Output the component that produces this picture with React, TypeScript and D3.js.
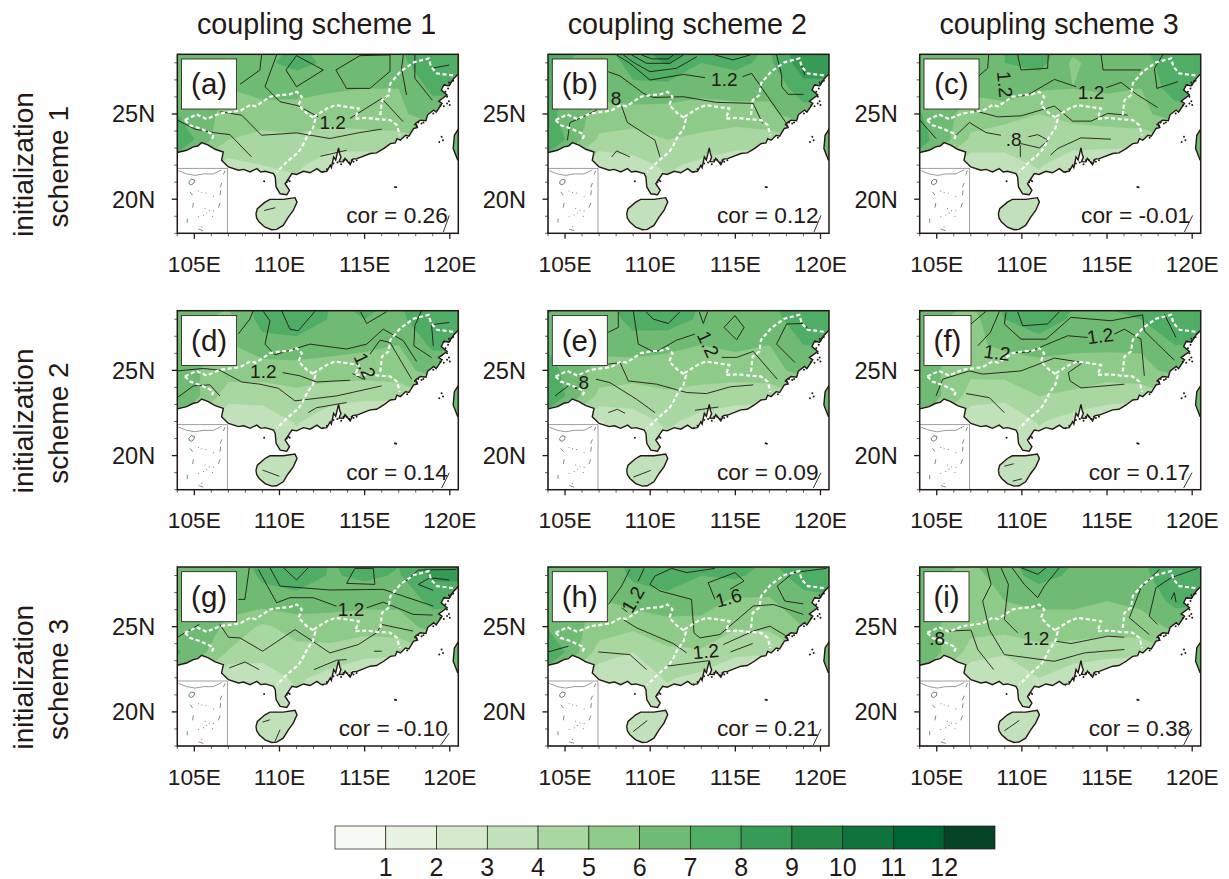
import React from 'react'
import * as d3 from 'd3'

// grid the shaded field sits on
const gridLons = [103, 105, 107, 109, 111, 113, 115, 117, 119, 121]
const gridLats = [29.5, 28, 26.5, 25, 23.5, 22, 20.5, 19, 17.5]

const fillA = [
  7.5, 7, 6.8, 6.8, 7, 6.8, 6.8, 7, 7.5, 7.5,
  7, 6.5, 5.8, 6.8, 7.3, 6.8, 6.8, 6.8, 7.5, 7.6,
  7, 6.2, 6, 6.4, 6.3, 6.1, 6, 6, 7.2, 7.2,
  7.5, 6.5, 5.7, 5.5, 5.6, 5.5, 5.6, 5.8, 6.5, 6.5,
  8, 7, 5, 4.7, 4.8, 4.5, 4.6, 4.6, 5, 7.5,
  7, 5, 3.6, 4, 4.2, 3.4, 3.3, 3.3, 4, 8,
  5, 4, 3.5, 3.6, 3.6, 3.3, 3, 3, 3.5, 6,
  5, 4, 3.5, 3.5, 3.5, 3.5, 3, 3, 3, 5,
  5, 4, 3.5, 3.5, 3.5, 3.5, 3, 3, 3, 5,
]
const fillB = [
  8, 7.2, 7, 8, 9.6, 8.2, 8, 7, 9, 9.2,
  7.6, 7, 6.2, 7.4, 8.1, 7, 7.2, 6.8, 8.6, 8.8,
  7.6, 7, 6.4, 6.8, 6.6, 6.3, 6.5, 6.2, 7.6, 7.5,
  7.6, 6.8, 5.6, 5.5, 5.6, 5.5, 5.5, 5.8, 6.5, 6.5,
  8, 7, 4.8, 4.6, 5, 4.8, 4.5, 4.5, 5, 7.5,
  7, 5, 3, 3.6, 4.2, 3.7, 3.3, 3.2, 4, 8,
  5, 4, 3, 3.3, 3.6, 3.4, 3, 3, 3.5, 6,
  5, 4, 3.5, 3.4, 3.4, 3.4, 3, 3, 3, 5,
  5, 4, 3.5, 3.3, 3.3, 3.3, 3, 3, 3, 5,
]
const fillC = [
  7.5, 7, 6.6, 7, 7.6, 6.6, 6.8, 7, 8, 8,
  7, 6.4, 6.2, 7, 7.4, 5.8, 6.6, 6.6, 7.6, 7.6,
  7, 6.2, 6.2, 6.6, 6.1, 6, 6.1, 6, 7.6, 7.4,
  7.5, 6.6, 5.5, 5.4, 5, 5.3, 5.6, 5.8, 6.4, 6.4,
  7.8, 6.8, 4.8, 4.4, 4.6, 4.5, 4.4, 4.4, 5, 7.5,
  7, 5, 3.2, 3.6, 4.1, 3.3, 3.3, 3.2, 4, 8,
  5, 4, 3, 3.3, 3.5, 3, 3, 3, 3.5, 6,
  5, 4, 3.5, 3.3, 3.3, 3, 3, 3, 3, 5,
  5, 4, 3.5, 3.3, 3.3, 3, 3, 3, 3, 5,
]
const fillD = [
  7, 6.8, 6.4, 7.4, 8.5, 7, 7.6, 7, 7.8, 8,
  6.6, 6.2, 5.7, 7.4, 7.8, 6.9, 7, 6.8, 7.6, 7.8,
  6.8, 6.2, 5.9, 6.6, 6.6, 6.4, 6.2, 6, 7.2, 7.2,
  7, 6.1, 5.5, 5.5, 5.6, 5.5, 5.5, 5.7, 6.3, 6.3,
  7.5, 6.3, 4.4, 4.4, 4.7, 4.4, 4.2, 4.2, 5, 7.5,
  7, 5, 3.1, 3.3, 4.1, 3.3, 3.1, 3.1, 4, 8,
  5, 4, 3, 3.3, 3.5, 3.2, 3, 3, 3.5, 6,
  5, 4, 3.5, 3.3, 3, 3, 3, 3, 3, 5,
  5, 4, 3.5, 3.3, 3, 3, 3, 3, 3, 5,
]
const fillE = [
  7.5, 7, 6.8, 7.6, 8, 7, 7, 7, 8, 8,
  7.2, 6.7, 6.2, 7.4, 7.6, 6.8, 6.8, 6.5, 7.7, 7.7,
  7.2, 6.7, 6.3, 6.5, 6.2, 6, 6.2, 6, 7, 7,
  7.5, 6.9, 5.6, 5.5, 5.6, 5.5, 5.5, 5.7, 6.3, 6.3,
  8, 7, 4.7, 4.5, 4.8, 4.6, 4.4, 4.3, 5, 7.5,
  7, 5, 2.9, 3.5, 4.2, 3.6, 3.3, 3.2, 4, 8,
  5, 4, 3, 3.4, 3.6, 3.3, 3, 3, 3.5, 6,
  5, 4, 3.5, 3.5, 3.3, 3.2, 3, 3, 3, 5,
  5, 4, 3.5, 3.5, 3.3, 3.2, 3, 3, 3, 5,
]
const fillF = [
  7.2, 6.6, 6.2, 7.4, 8.5, 7.2, 7.4, 7.2, 8, 8,
  6.6, 6.1, 5.6, 7, 7.8, 6.8, 6.7, 7, 7.6, 7.8,
  6.4, 6.1, 5.8, 6.2, 6.4, 6.2, 6.2, 6.1, 7, 7,
  7, 6.1, 5.2, 5.4, 5.6, 5.6, 5.5, 5.8, 6.2, 6.2,
  7.5, 6.2, 4.6, 4.3, 5, 4.8, 4.4, 4.3, 5, 7.5,
  7, 5, 3, 3.1, 4.1, 3.5, 3.2, 3.1, 4, 8,
  5, 4, 3, 3.2, 3.5, 3.2, 3, 3, 3.5, 6,
  5, 4, 3.5, 3.3, 3.3, 3.2, 3, 3, 3, 5,
  5, 4, 3.5, 3.3, 3.3, 3.2, 3, 3, 3, 5,
]
const fillG = [
  7, 6.8, 6.6, 7.4, 8, 7, 7.6, 7.2, 8.8, 8.8,
  6.8, 6.4, 6, 7.2, 7.6, 6.9, 7.2, 6.9, 8.2, 8.2,
  6.8, 6.4, 6.3, 6.5, 6.6, 6.4, 6.3, 6.2, 7.3, 7.3,
  7, 6.6, 5.8, 4.8, 5.4, 5.5, 5.4, 5.6, 6.3, 6.3,
  7.6, 6.6, 4.9, 4.4, 4.7, 4.7, 4.3, 4.2, 5, 7.5,
  7, 5, 3, 3.4, 4.2, 3.6, 3.1, 3, 4, 8,
  5, 4, 3, 3.4, 3.7, 3.3, 3, 3, 3.5, 6,
  5, 4, 3.5, 3.4, 3.4, 3.2, 3, 3, 3, 5,
  5, 4, 3.5, 3.4, 3.4, 3.2, 3, 3, 3, 5,
]
const fillH = [
  7.5, 7, 6.6, 7.4, 8.5, 7.6, 7.6, 7.2, 8, 8,
  7, 6.4, 6, 7.2, 7.6, 7, 7.2, 6.5, 7.5, 7.8,
  7, 6.2, 5.9, 6.4, 6.6, 6.5, 5.8, 5.9, 6.6, 6.8,
  7.4, 6.5, 5.6, 5.2, 5.6, 5.6, 5.1, 5.2, 6, 6,
  8, 7, 4.5, 4, 4.8, 4.9, 4.2, 4.1, 5, 7.5,
  7, 5, 3.3, 3.4, 4.1, 3.7, 3.1, 3, 4, 8,
  5, 4, 3, 3.3, 3.6, 3.3, 3, 3, 3.5, 6,
  5, 4, 3.5, 3.4, 3.4, 3.2, 3, 3, 3, 5,
  5, 4, 3.5, 3.4, 3.4, 3.2, 3, 3, 3, 5,
]
const fillI = [
  6.8, 6.6, 6.2, 6.8, 7.8, 7.2, 7.2, 7, 8, 8,
  6.4, 6.1, 5.6, 6.5, 7.4, 6.8, 6.6, 6.8, 7.5, 7.7,
  6.4, 6.1, 5.7, 6, 6.2, 6.2, 6, 6.2, 7.3, 7.2,
  6.8, 6.1, 5.3, 5.4, 5.6, 5.6, 5.4, 5.6, 6.2, 6.2,
  7.5, 6.2, 4.6, 4.1, 4.6, 4.5, 4.3, 4.2, 5, 7.5,
  7, 5, 3, 3.2, 4, 3.4, 3.1, 3, 4, 8,
  5, 4, 3, 3.4, 3.7, 3.3, 3, 3, 3.5, 6,
  5, 4, 3.5, 3.3, 3.3, 3.2, 3, 3, 3, 5,
  5, 4, 3.5, 3.3, 3.3, 3.2, 3, 3, 3, 5,
]

// black contour lines, lon/lat
type Pt = [number, number]
const linesA: Pt[][] = [
  [[104, 24.64], [105.04, 24.11], [106.11, 23.91], [107.09, 23.79], [108.36, 22.48]],
  [[106.5, 25.13], [107.78, 24.93], [108.95, 23.75], [111, 23.89], [112.96, 23.56], [114.72, 23.91], [116, 24.11]],
  [[114.14, 24.74], [116, 25.91], [117.27, 24.54]],
  [[109.15, 26.6], [109.83, 28.46]],
  [[109.15, 26.6], [110.03, 25.72], [111.1, 25.48], [112.28, 24.83]],
  [[110.38, 27.58], [111, 28.42], [112.57, 27.58], [111, 26.6], [110.38, 27.58]],
  [[113.31, 27.58], [114.72, 28.42], [116.49, 28.46], [116.49, 27.5], [115.31, 26.5], [113.94, 26.5], [113.31, 27.58]],
  [[117.27, 28.46], [117.17, 27.68], [117.46, 26.11]],
  [[117.95, 28.46], [117.95, 27.09], [118.97, 25.81]],
  [[118.93, 27.68], [119.97, 27.87]],
  [[107.68, 26.74], [108.85, 27.58], [108.95, 28.46]],
  [[112.41, 22.52], [113.94, 22.87]],
  [[109.1, 19.34], [109.75, 19.5]],
  [[119.97, 19.05], [119.62, 18.07]],
]
const linesB: Pt[][] = [
  [[107.54, 27.48], [108.23, 27.23], [109.6, 26.21], [110.18, 25.97], [111.95, 26.01], [113.9, 25.68], [116.05, 25.62], [116.6, 24.44]],
  [[108.32, 25.46], [108.66, 24.5], [110.28, 23.46], [110.58, 22.48]],
  [[105.14, 23.46], [105.29, 24.5], [106.07, 24.83], [106.86, 25.23]],
  [[107.74, 22.48], [108.03, 22.83], [108.81, 22.48]],
  [[108.03, 28.46], [108.81, 27.97], [109.99, 26.99], [111.95, 27.32], [113.22, 27.13]],
  [[115.43, 27.19], [115.96, 27.38], [118.01, 24.44]],
  [[108.42, 28.46], [109.11, 27.97], [109.99, 27.48], [111.55, 27.68], [112.73, 28.36]],
  [[108.91, 28.46], [109.79, 27.97], [111.16, 27.97], [111.95, 28.46]],
  [[109.5, 28.46], [110.09, 28.23], [111.06, 28.23], [111.36, 28.46]],
  [[113.8, 28.46], [114.86, 28.17], [115.86, 28.46]],
  [[117.42, 28.46], [117.72, 27.28], [117.72, 26.6], [118.11, 26.15], [119, 26.15]],
  [[118.8, 28.07], [119.09, 27.28]],
  [[120.03, 19.05], [119.62, 18.07]],
]
const linesC: Pt[][] = [
  [[104, 24.64], [104.96, 23.56]],
  [[106.04, 23.66], [106.92, 24.5], [107.89, 23.91], [108.77, 23.75]],
  [[109.95, 23.26], [111.03, 23.01], [111.55, 23.46], [110.93, 23.79], [110.38, 23.66]],
  [[109.91, 23.17], [109.91, 22.48]],
  [[107.21, 25.19], [108.58, 24.83], [109.95, 24.89], [111.91, 25.46], [112.98, 24.58], [114.06, 24.58], [115.04, 25.03], [116.21, 24.93]],
  [[111.67, 22.58], [112.1, 22.97], [113.47, 23.6], [115.23, 23.52]],
  [[108.05, 28.46], [107.99, 27.68], [107.31, 27.09]],
  [[109.75, 28.46], [109.95, 27.58], [111.51, 27.68], [111.55, 28.46]],
  [[109.75, 26.01], [110.34, 26.11], [111.91, 27.03], [113.18, 26.6]],
  [[114.94, 26.54], [115.82, 26.85], [116.8, 26.11], [117.97, 25.38]],
  [[114.65, 28.46], [114.77, 27.58], [116.99, 27.58]],
  [[118.27, 28.46], [117.78, 27.68], [117.93, 26.5], [119.15, 26.89]],
  [[120.03, 19.05], [119.54, 18.07]],
]
const linesD: Pt[][] = [
  [[104, 24.97], [105.53, 25.11], [106.5, 25.01], [107.78, 24.32], [108.85, 24.19], [109.93, 23.95], [110.91, 23.21], [113.35, 23.5], [116, 24.09]],
  [[104, 23.4], [104.94, 24.09], [105.92, 24.15], [106.5, 23.5]],
  [[110.18, 24.87], [111.2, 24.68], [112.18, 24.32], [114.14, 24.42]],
  [[114.29, 24.81], [114.92, 24.48]],
  [[115.31, 25.95], [115.9, 26.77], [116.49, 26.64], [117.76, 24.48]],
  [[111.69, 22.52], [112.18, 22.81], [113.94, 23.11]],
  [[107.58, 27.13], [108.26, 28.01], [108.46, 28.5]],
  [[109.05, 28.46], [109.44, 27.91], [109.15, 26.54], [109.73, 25.91], [111.79, 26.54], [113.94, 26.25], [115.12, 26.54], [116.09, 27.42], [117.27, 26.74], [118.05, 25.52]],
  [[110.13, 28.5], [110.61, 27.42], [111.1, 27.32], [112.08, 28.46]],
  [[114.76, 28.44], [115.12, 27.75], [116.29, 28.44]],
  [[118.34, 28.5], [117.95, 27.62], [117.89, 26.44], [118.93, 25.75]],
  [[119.97, 27.81], [118.93, 27.68], [119.03, 26.44]],
  [[109.01, 19.15], [109.99, 18.79]],
  [[119.97, 18.99], [119.52, 18.1]],
]
const linesE: Pt[][] = [
  [[107.54, 25.36], [108.23, 25.46], [108.72, 24.38], [110.38, 24.19], [112.14, 23.7], [113.31, 23.64], [114.68, 24.03], [116.05, 24.15]],
  [[106.82, 24.48], [107.64, 24.28], [109.21, 23.3], [110.28, 22.52]],
  [[104.41, 23.5], [105.19, 24.09]],
  [[107.54, 22.52], [108.07, 22.72], [108.52, 22.48]],
  [[112.63, 22.66], [114, 22.85]],
  [[109.01, 28.5], [109.3, 26.54], [110.28, 26.05], [111.55, 26.77], [112.63, 27.13]],
  [[114.2, 25.76], [115.08, 25.76], [116.05, 26.11], [117.46, 24.48]],
  [[109.75, 28.44], [110.18, 28.01], [111.06, 27.75], [111.75, 28.44]],
  [[112.88, 28.44], [113.12, 27.75], [113.37, 28.44]],
  [[114.33, 27.52], [114.98, 28.21], [115.51, 27.52], [115.08, 26.79], [114.33, 27.52]],
  [[119.29, 27.42], [118.99, 27.75], [118.01, 27.72], [117.42, 26.54], [118.5, 25.46]],
  [[109.01, 18.74], [110.03, 19.13]],
  [[108.13, 28.44], [108.13, 27.52], [107.54, 27.23]],
  [[120.03, 19], [119.58, 18.1]],
]
const linesF: Pt[][] = [
  [[104.96, 23.5], [105.35, 24.48], [106.92, 24.97], [107.7, 24.78], [109.95, 24.97], [111.91, 25.72], [113.57, 25.46], [112.73, 24.87], [112.83, 24.38], [113.47, 23.97], [116.02, 24.19]],
  [[106.72, 23.64], [108.09, 23.4], [108.97, 22.52]],
  [[107.41, 26.44], [108.15, 27.23], [108.68, 28.46]],
  [[109.46, 26.05], [110.34, 26.05], [112.69, 27.03], [113.86, 26.93]],
  [[115.43, 27.13], [116.02, 27.42], [116.99, 26.83], [117.19, 24.68]],
  [[109.07, 28.4], [108.97, 27.72], [109.95, 26.83], [111.42, 26.83], [112.88, 28.11], [115.23, 27.91], [117.09, 28.26], [117.19, 27.32], [117.87, 26.64], [118.95, 25.6]],
  [[109.75, 28.44], [110.05, 27.62], [111.51, 27.72], [112.2, 28.44]],
  [[118.36, 28.3], [119.05, 26.93]],
  [[107.01, 27.72], [107.89, 28.46]],
  [[108.97, 19.38], [109.52, 19.52]],
  [[109.46, 18.5], [110.01, 18.64]],
  [[119.99, 19], [119.5, 18.1]],
]
const linesG: Pt[][] = [
  [[104, 24.38], [105.29, 25.13]],
  [[106.5, 25.13], [107, 24.38], [107.68, 24.34], [109.01, 23.56], [110.91, 24.83], [111.79, 24.25], [112.96, 23.46], [114.63, 23.95], [115.7, 24.64], [116, 25.13], [117.85, 24.74]],
  [[107.05, 22.58], [107.98, 22.93], [108.81, 22.48]],
  [[112.02, 22.48], [113.35, 23.03], [113.94, 23.07]],
  [[115.55, 23.56], [116, 23.56]],
  [[107.58, 26.6], [107.97, 26.6], [108.23, 28.46]],
  [[108.76, 28.36], [109.83, 26.4], [110.61, 26.7], [111.99, 26.7], [113.35, 26.2]],
  [[115.12, 26.11], [116.09, 26.44], [117.85, 25.72], [118.99, 25.68]],
  [[109.44, 28.46], [110.03, 27.38], [112.96, 27.15], [116.09, 27.19], [117.27, 26.79], [119.03, 26.21]],
  [[110.23, 28.46], [111, 27.74], [111.69, 28.46]],
  [[113.94, 27.54], [114.43, 28.42], [115.51, 28.42], [115.6, 27.48], [113.94, 27.54]],
  [[117.27, 27.54], [118.15, 28.32], [120.4, 28.36]],
  [[119.97, 27.74], [118.83, 27.87], [118.15, 27.48], [119.03, 27.13]],
  [[109.01, 19.4], [109.44, 19.54]],
  [[109.73, 18.26], [110.03, 18.95]],
  [[119.97, 18.75], [119.46, 18.05]],
]
const linesH: Pt[][] = [
  [[104, 23.52], [105.19, 23.85]],
  [[106.95, 23.52], [108.81, 23.36], [109.79, 22.48]],
  [[108.42, 25.42], [109.21, 24.93], [111.36, 24.01], [112.14, 23.46]],
  [[107.54, 26.3], [108.32, 27.38], [108.81, 28.36]],
  [[108.32, 26.11], [108.66, 25.86]],
  [[110.97, 22.68], [113.41, 23]],
  [[114.29, 23.95], [116.05, 24.74], [117.03, 25.03], [118.01, 24.44]],
  [[114.72, 23.52], [116.02, 24.01]],
  [[113.8, 28.42], [112.14, 28.17], [111.26, 28.42], [110.28, 27.97], [109.99, 27.48], [110.58, 27.09], [112.43, 26.6], [112.57, 24.64], [112.92, 24.34], [114.1, 24.54], [116.05, 26.21], [117.23, 26.3], [118.99, 25.72]],
  [[109.3, 27.68], [109.64, 28.42]],
  [[113.8, 26.6], [113.41, 27.58], [114.98, 28.17], [115.51, 27.68], [114.68, 27.19]],
  [[120.36, 28.42], [118.4, 28.17], [117.46, 27.38], [117.91, 26.5], [118.99, 26.34]],
  [[109.01, 18.85], [109.83, 19.5]],
  [[120.03, 19], [119.58, 18.06]],
]
const linesI: Pt[][] = [
  [[105.64, 24.74], [107.01, 24.8], [107.41, 23.66], [108.34, 22.48]],
  [[107.95, 28.46], [108.19, 27.48], [107.7, 26.5], [108.09, 24.83], [108.97, 23.36], [111.91, 22.97], [113.67, 23.46], [116.02, 23.66]],
  [[108.77, 28.46], [109.21, 27.48], [108.97, 25.42], [109.75, 24.64]],
  [[111.95, 24.15], [112.89, 24.01], [115.04, 24.44], [116.02, 24.38]],
  [[109.42, 28.46], [110.14, 27.48], [110.93, 26.7], [111.32, 27.38], [112.2, 28.46]],
  [[109.95, 28.46], [110.93, 28.07], [111.42, 28.46]],
  [[118.07, 28.36], [116.99, 27.28], [116.31, 25.52], [117.48, 24.54]],
  [[120.32, 28.42], [118.76, 27.87], [117.87, 27.28], [117.48, 25.62], [117.97, 25.13]],
  [[118.76, 26.6], [118.95, 27], [119.05, 26.44]],
  [[108.97, 18.89], [109.85, 19.5]],
  [[119.99, 19], [119.5, 18.06]],
]

// contour labels: text, lon, lat, rotation
type Lab = [string, number, number, number]
const labelsA: Lab[] = [['1.2', 113.12, 24.5, 0]]
const labelsB: Lab[] = [['8', 108, 25.9, 0], ['1.2', 114.35, 27.03, 0]]
const labelsC: Lab[] = [['1.2', 109.01, 26.74, 85], ['.8', 109.52, 23.52, 0], ['1.2', 114.06, 26.3, 0]]
const labelsD: Lab[] = [['1.2', 109.05, 24.93, 0], ['1.2', 115.02, 25.26, 65]]
const labelsE: Lab[] = [['.8', 105.95, 24.28, 0], ['1.2', 113.41, 26.54, 65]]
const labelsF: Lab[] = [['1.2', 108.54, 26.05, 8], ['1.2', 114.6, 27.03, -8]]
const labelsG: Lab[] = [['1.2', 114.2, 26, 0]]
const labelsH: Lab[] = [['1.2', 108.97, 26.6, -60], ['1.6', 114.6, 26.7, -15], ['1.2', 113.26, 23.56, -5]]
const labelsI: Lab[] = [['.8', 105.02, 24.34, 0], ['1.2', 110.83, 24.34, 0]]

const panelNames = ['(a)', '(b)', '(c)', '(d)', '(e)', '(f)', '(g)', '(h)', '(i)']
const corValues = ['0.26', '0.12', '-0.01', '0.14', '0.09', '0.17', '-0.10', '0.21', '0.38']
const panelFills = [fillA, fillB, fillC, fillD, fillE, fillF, fillG, fillH, fillI]
const panelLines = [linesA, linesB, linesC, linesD, linesE, linesF, linesG, linesH, linesI]
const panelLabels = [labelsA, labelsB, labelsC, labelsD, labelsE, labelsF, labelsG, labelsH, labelsI]
const columnTitles = ['coupling scheme 1', 'coupling scheme 2', 'coupling scheme 3']
const rowTitles = ['scheme 1', 'scheme 2', 'scheme 3']
const lonTicks = [105, 110, 115, 120]
const latTicks = [20, 25]
const lonMinor = d3.range(104, 121)
const latMinor = d3.range(18, 29)

// coastline
const coast: Pt[] = [
  [104, 22.74], [104.55, 22.87], [104.94, 23.07], [105.2, 23.12], [105.43, 23.32], [105.82, 23.17], [106.22, 22.93], [106.7, 22.77],
  [106.6, 22.28], [107, 21.89], [107.59, 21.7], [107.9, 21.75], [108.27, 21.6], [108.67, 21.79], [108.9, 21.6], [109.16, 21.64], [109.65, 21.5],
  [109.75, 21.3], [109.8, 20.72], [110.04, 20.32], [110.43, 20.26], [110.59, 20.52], [110.33, 20.91], [110.53, 21.2],
  [110.73, 21.5], [111, 21.45], [111.41, 21.64], [111.8, 21.55], [112.2, 21.79], [112.45, 21.6], [112.78, 21.64], [112.98, 21.99], [113.05, 21.85],
  [113.18, 22.48], [113.3, 22.3], [113.47, 23.01], [113.55, 22.6], [113.61, 22.48], [113.5, 22.2], [113.76, 22.19], [113.85, 22.4], [114.15, 22.03],
  [114.3, 22.35], [114.55, 22.38], [115.33, 22.68], [115.7, 22.72], [116.12, 22.97], [116.51, 23.26], [116.8, 23.3], [116.9, 23.55],
  [117.1, 23.46], [117.4, 23.75], [117.6, 23.7], [117.88, 24.15], [118.1, 24.2], [118, 24.45], [118.27, 24.64], [118.6, 24.6], [118.7, 24.95],
  [119.06, 25.23], [119.2, 25.1], [119.55, 25.62], [119.35, 25.75], [119.84, 26.11], [119.5, 26.4], [119.65, 26.7], [119.95, 26.65],
  [120.24, 27.09], [120.53, 27.38],
]
const hainan: Pt[] = [
  [108.62, 19.15], [108.7, 19.44], [109.15, 19.83], [109.44, 19.99], [110.22, 19.99], [110.91, 20.09], [111.03, 19.83], [110.81, 19.34],
  [110.52, 18.95], [110.22, 18.46], [109.83, 18.23], [109.54, 18.21], [109.15, 18.36], [108.81, 18.66], [108.66, 18.89], [108.62, 19.15],
]
const taiwan: Pt[] = [[120.53, 24.15], [120.27, 23.75], [120.2, 22.97], [120.47, 22.28]]
const islands: Pt[] = [
  [109.1, 21.05], [116.78, 20.72], [119.52, 23.66], [119.38, 23.36], [119.6, 23.46], [118.15, 24.5], [117.95, 24.38],
  [118.34, 24.44], [119.84, 25.62], [119.71, 26.7], [119.9, 26.5], [120.1, 26.9], [119.84, 26.01], [120, 25.52],
  [119.03, 25.03], [114.24, 22.28], [113.94, 22.28], [114.53, 22.28], [113.76, 22.28], [113.17, 22.09], [110.53, 21.11],
  [110.43, 21], [112.78, 21.75], [120, 26.73], [118.45, 24.5], [118.05, 24.3], [119.65, 25.45], [119.95, 25.75], [119.75, 26.3],
  [119.95, 26.85], [120.2, 26.95], [114.1, 22.15], [114.35, 22.2], [113.62, 22.05], [113.4, 22.15], [110.6, 21.05], [116.85, 20.7],
  [112.55, 21.6], [117.5, 23.6], [119.45, 25.5],
]

// provincial borders
const borders: Pt[][] = [
  [[104.45, 24.64], [105.13, 24.97], [105.72, 24.7], [106.5, 25.03], [107.69, 25.19], [108.27, 25.52], [108.6, 25.45], [108.86, 25.62], [109.45, 26.01], [110.04, 26.11], [110.6, 26.15], [111.02, 26.3], [111.31, 26.01], [111.12, 25.52], [111.61, 25.03], [112.1, 24.7], [111.96, 24.15], [111.61, 23.66], [111.37, 23.17], [111.12, 22.77], [110.43, 22.19], [110.14, 21.89], [109.84, 21.6]],
  [[104.45, 24.64], [104.75, 24.34], [105.33, 24.15], [106.12, 23.79], [106.02, 23.46]],
  [[112, 24.83], [112.78, 25.32], [113.27, 25.52], [113.96, 25.42], [114.65, 25.32], [114.45, 24.73], [115.14, 24.77], [115.73, 24.7], [116.51, 24.64], [116.9, 24.34], [117.06, 23.75]],
  [[115.92, 24.93], [116.02, 25.81], [116.41, 26.11], [116.51, 26.79], [117.1, 27.48], [117.88, 28.03], [118.76, 28.26], [118.9, 27.77], [119.25, 27.38], [120.33, 27.25]],
]

// South China Sea inset
const insetCoast: Pt[] = [[105.4, 24.2], [108.4, 23.1], [111.4, 22.6], [114.4, 23.1], [118, 23.1], [121, 24.5]]
const insetHainan: Pt[] = [[109.2, 20.4], [110, 21.3], [111.2, 21], [111, 20], [110, 19.4], [109.3, 19.7], [109.2, 20.4]]
const insetDashes: Pt[][] = [
  [[121, 20], [120.4, 18.6]], [[122.2, 24.2], [121.6, 22.9]], [[109.6, 17], [110.5, 15.9]], [[120.4, 13.3], [119.8, 11.7]],
  [[110.8, 13.3], [110.5, 11.7]], [[108.6, 8], [108.6, 6.6]], [[112.6, 4.4], [114.4, 3.9]], [[120.6, 17.5], [120.4, 15.9]],
]
const insetDots: Pt[] = [
  [112.6, 17.3], [113.8, 16.9], [115.3, 16.6], [118, 15.5], [115, 11.4], [116.5, 10.8], [118, 10.6], [112.6, 8.6],
  [114.4, 9.2], [117.7, 8.8], [115.6, 9.9], [113.8, 5.2],
]

const barValues = d3.range(0, 14)
const barColors = ['#f6faf3', '#e6f3e1', '#d5eacd', '#c0e1b9', '#a9d7a1', '#8fcb88', '#6fbb74', '#50ad66', '#379a55', '#228546', '#0e733d', '#006535', '#044326']

const ink = '#231815'
const font = "'Liberation Sans', Arial, sans-serif"
const panelW = 281
const panelH = 179
const insetTop = 114
const colX = [177.3, 548, 919.7]
const rowY = [54.3, 310.7, 567]

const x = d3.scaleLinear().domain([104, 120.5]).range([0, panelW])
const y = d3.scaleLinear().domain([18, 28.5]).range([panelH, 0])
const line = d3.line<Pt>().x(d => x(d[0])).y(d => y(d[1]))

const insetX = d3.scaleLinear().domain([105, 123]).range([0, 50])
const insetY = d3.scaleLinear().domain([25, 3]).range([0, panelH - insetTop])
const insetLine = d3.line<Pt>().x(d => insetX(d[0])).y(d => insetY(d[1]))

const gridLon = d3.scaleLinear().domain([0, gridLons.length - 1]).range([gridLons[0], gridLons[gridLons.length - 1]])
const gridLat = d3.scaleLinear().domain([0, gridLats.length - 1]).range([gridLats[0], gridLats[gridLats.length - 1]])
const contourGen = d3.contours().size([gridLons.length, gridLats.length]).thresholds(d3.range(1, 13))
const contourPath = d3.geoPath(d3.geoTransform({
  point(px: number, py: number) {
    // d3.contours puts sample i at i + 0.5
    this.stream.point(x(gridLon(px - 0.5)), y(gridLat(py - 0.5)))
  },
}))

const landPath = [
  line([...coast, [121, 27.38], [121, 29], [103.5, 29], [103.5, 22.74]] as Pt[]) + 'Z',
  line(hainan) + 'Z',
  line([...taiwan, [121, 22.28], [121, 24.15]] as Pt[]) + 'Z',
].join('')

const legendX = d3.scaleLinear().domain([0, 13]).range([335, 995])

function Panel({ index }: { index: number }) {
  const left = colX[index % 3]
  const top = rowY[Math.floor(index / 3)]
  const bands = contourGen(panelFills[index])
  const name = panelNames[index]
  const boxW = name === '(i)' ? 45 : name === '(f)' ? 47 : 55
  return (
    <g transform={`translate(${left},${top})`} fontFamily={font} fill={ink}>
      <g clipPath="url(#panel-clip)">
        <g clipPath="url(#land-clip)">
          {bands.map(b => (
            <path key={b.value} d={contourPath(b) as string} fill={barColors[b.value]} stroke={barColors[b.value]} strokeWidth={0.3} />
          ))}
        </g>
        {panelLines[index].map((l, i) => (
          <path key={i} d={line(l) as string} fill="none" stroke={ink} strokeWidth={0.9} />
        ))}
        {borders.map((b, i) => (
          <path key={i} d={line(b) as string} fill="none" stroke="#fff" strokeWidth={2.2} strokeDasharray="4 2.6" />
        ))}
        {panelLabels[index].map((l, i) => (
          <text key={i} transform={`translate(${x(l[1])},${y(l[2])}) rotate(${l[3]})`} fontSize={19} textAnchor="middle" dy="0.36em">{l[0]}</text>
        ))}
        <path d={line(coast) as string} fill="none" stroke={ink} strokeWidth={1.4} />
        <path d={line(hainan) as string} fill="none" stroke={ink} strokeWidth={1.4} />
        <path d={line(taiwan) as string} fill="none" stroke={ink} strokeWidth={1.4} />
        {islands.map((p, i) => (
          <circle key={i} cx={x(p[0])} cy={y(p[1])} r={1} />
        ))}
      </g>
      <g transform={`translate(0,${insetTop})`}>
        <rect width={50} height={panelH - insetTop} fill="#fff" stroke="#777" strokeWidth={0.7} />
        <path d={insetLine(insetCoast) as string} fill="none" stroke="#555" strokeWidth={0.6} />
        <path d={insetLine(insetHainan) as string} fill="none" stroke="#444" strokeWidth={0.7} />
        {insetDashes.map((d, i) => (
          <path key={i} d={insetLine(d) as string} fill="none" stroke="#555" strokeWidth={0.7} />
        ))}
        {insetDots.map((p, i) => (
          <circle key={i} cx={insetX(p[0])} cy={insetY(p[1])} r={0.5} fill="#666" />
        ))}
      </g>
      <rect x={4.3} y={4.7} width={boxW} height={50} fill="#fff" stroke={ink} strokeWidth={0.8} />
      <text x={4.3 + boxW / 2} y={40} fontSize={29.5} textAnchor="middle">{name}</text>
      <text x={270.5} y={169} fontSize={22.7} textAnchor="end">{`cor = ${corValues[index]}`}</text>
      <rect width={panelW} height={panelH} fill="none" stroke={ink} strokeWidth={1.5} />
      {lonMinor.map(v => (
        <line key={v} x1={x(v)} x2={x(v)} y1={panelH} y2={panelH + (lonTicks.includes(v) ? 5.5 : 3)} stroke={ink} strokeWidth={lonTicks.includes(v) ? 1.3 : 0.7} />
      ))}
      {latMinor.map(v => (
        <line key={v} x1={latTicks.includes(v) ? -5.5 : -3} x2={0} y1={y(v)} y2={y(v)} stroke={ink} strokeWidth={latTicks.includes(v) ? 1.3 : 0.7} />
      ))}
      {lonTicks.map(v => (
        <text key={v} x={x(v)} y={panelH + 38.5} fontSize={22.7} textAnchor="middle">{`${v}E`}</text>
      ))}
      {latTicks.map(v => (
        <text key={v} x={-22} y={y(v)} dy="0.36em" fontSize={23.6} textAnchor="end">{`${v}N`}</text>
      ))}
    </g>
  )
}

export default function App() {
  return (
    <svg width={1229} height={879} style={{ position: 'absolute', left: 0, top: 0, display: 'block' }}>
      <defs>
        <clipPath id="panel-clip"><rect width={panelW} height={panelH} /></clipPath>
        <clipPath id="land-clip"><path d={landPath} /></clipPath>
      </defs>
      {panelNames.map((n, i) => <Panel key={n} index={i} />)}
      <g fontFamily={font} fill={ink}>
        {columnTitles.map((t, i) => (
          <text key={t} x={colX[i] + 139.3} y={33.5} fontSize={28.7} textAnchor="middle">{t}</text>
        ))}
        {rowTitles.map((t, i) => (
          <g key={t} transform={`translate(0,${rowY[i]}) rotate(-90)`} textAnchor="middle" fontSize={28}>
            <text x={-110.2} y={33}>initialization</text>
            <text x={-112.4} y={67.7}>{t}</text>
          </g>
        ))}
        {barColors.map((c, i) => (
          <rect key={c} x={legendX(i)} y={826} width={legendX(i + 1) - legendX(i)} height={23} fill={c} stroke={ink} strokeWidth={0.7} />
        ))}
        {barValues.slice(1, 13).map(v => (
          <text key={v} x={legendX(v)} y={875.5} fontSize={25} textAnchor="middle">{v}</text>
        ))}
      </g>
    </svg>
  )
}
